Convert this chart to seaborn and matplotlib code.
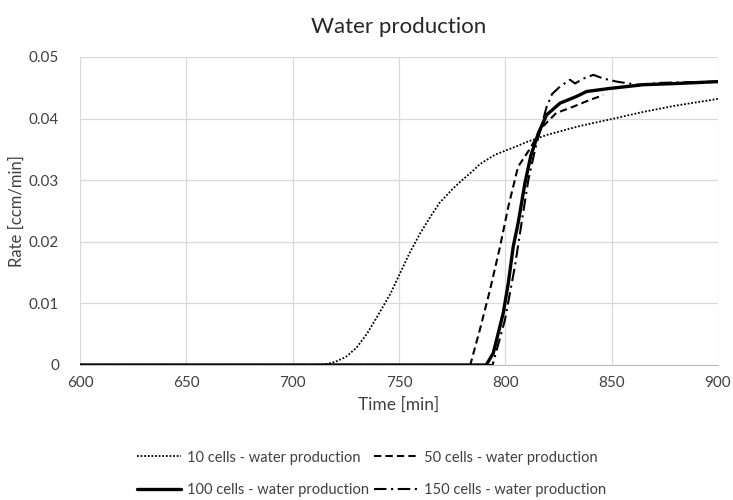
import matplotlib
matplotlib.use("Agg")
import matplotlib.pyplot as plt
import seaborn as sns
import pandas as pd

# Water production rate for each grid resolution
t_10 = [600, 710, 715, 720, 725, 730, 735, 740, 746, 750.5, 755, 760, 765, 769, 775, 779, 785, 788, 795,
        800, 806, 810, 820, 835, 851, 865, 880, 900]
q_10 = [0, 0, 0.0001, 0.0005, 0.0013, 0.0028, 0.0051, 0.0080, 0.0116, 0.0149, 0.0182, 0.0214, 0.0242,
        0.0263, 0.0285, 0.0298, 0.0316, 0.0326, 0.0341, 0.0348, 0.0356, 0.0362, 0.0374, 0.0388, 0.0400,
        0.0411, 0.0421, 0.0432]

t_50 = [600, 783.5, 788, 792.8, 797.5, 801.4, 806, 811.2, 817.6, 823.9, 831.7, 839.5, 846]
q_50 = [0, 0, 0.0057, 0.0122, 0.0192, 0.0257, 0.0322, 0.0349, 0.0387, 0.0409, 0.0419, 0.0430, 0.0438]

t_100 = [600, 791, 794.3, 799, 801.4, 803.7, 806, 809.2, 812, 815.5, 819.4, 825.7, 833.5, 838.2, 849.2,
         864.9, 880.6, 900]
q_100 = [0, 0, 0.0019, 0.0084, 0.0133, 0.0192, 0.0230, 0.0295, 0.0340, 0.0376, 0.0406, 0.0425, 0.0436,
         0.0444, 0.0449, 0.0455, 0.0457, 0.0460]

t_150 = [600, 794, 799.8, 804.5, 807.6, 810.8, 814, 819.4, 822, 825.7, 830.4, 832.8, 836.7, 841.4, 846.1,
         852.4, 861.8, 872.8, 885, 900]
q_150 = [0, 0, 0.0073, 0.0160, 0.0230, 0.0300, 0.0350, 0.0419, 0.0440, 0.0452, 0.0463, 0.0457, 0.0465,
         0.0471, 0.0465, 0.0460, 0.0455, 0.0458, 0.0459, 0.0460]

labels = ["10 cells - water production", "50 cells - water production",
          "100 cells - water production", "150 cells - water production"]

x_ticks = [600, 650, 700, 750, 800, 850, 900]
y_ticks = [0, 0.01, 0.02, 0.03, 0.04, 0.05]
y_tick_labels = ["0", "0.01", "0.02", "0.03", "0.04", "0.05"]

sns.set_style("white")
plt.rcParams["font.family"] = ["Lato", "DejaVu Sans"]

fig = plt.figure(figsize=(7.33, 5.0), dpi=100)
ax = fig.add_axes([80 / 733, 1 - 365 / 500, (718 - 80) / 733, (365 - 57) / 500])

series = [
    (t_10, q_10, labels[0], (0, (1, 1)), 1.3),
    (t_50, q_50, labels[1], (0, (3.5, 2)), 1.5),
    (t_100, q_100, labels[2], "-", 2.4),
    (t_150, q_150, labels[3], (0, (6, 2.2, 1, 2.2)), 1.5),
]

for t, q, lab, ls, lw in series:
    df = pd.DataFrame({"Time": t, "Rate": q})
    sns.lineplot(data=df, x="Time", y="Rate", ax=ax, color="black", linestyle=ls,
                 linewidth=lw, label=lab, sort=False)

ax.set_xlim(600, 900)
ax.set_ylim(0, 0.05)
ax.set_xticks(x_ticks)
ax.set_yticks(y_ticks)
ax.set_yticklabels(y_tick_labels)
ax.grid(True, color="#d9d9d9", linewidth=0.9)
ax.set_axisbelow(True)
for side in ["top", "right", "left"]:
    ax.spines[side].set_visible(False)
ax.spines["bottom"].set_color("#bfbfbf")
ax.tick_params(axis="both", length=0, labelsize=11, colors="#404040")
ax.tick_params(axis="y", pad=15)
ax.tick_params(axis="x", pad=8)

ax.set_xlabel("Time [min]", fontsize=12.5, color="#404040", labelpad=5)
ax.set_ylabel("Rate [ccm/min]", fontsize=12, color="#404040", labelpad=3)
ax.set_title("Water production", fontsize=16, color="#262626", pad=17)

h, l = ax.get_legend_handles_labels()
order = [0, 2, 1, 3]
ax.legend([h[i] for i in order], [l[i] for i in order], ncol=2, frameon=False,
          loc="upper center", bbox_to_anchor=(0.457, -0.235), fontsize=10.5,
          handlelength=3.0, columnspacing=0.3, handletextpad=0.45, labelspacing=1.25,
          labelcolor="#404040")

fig.savefig("out.png", dpi=100)
